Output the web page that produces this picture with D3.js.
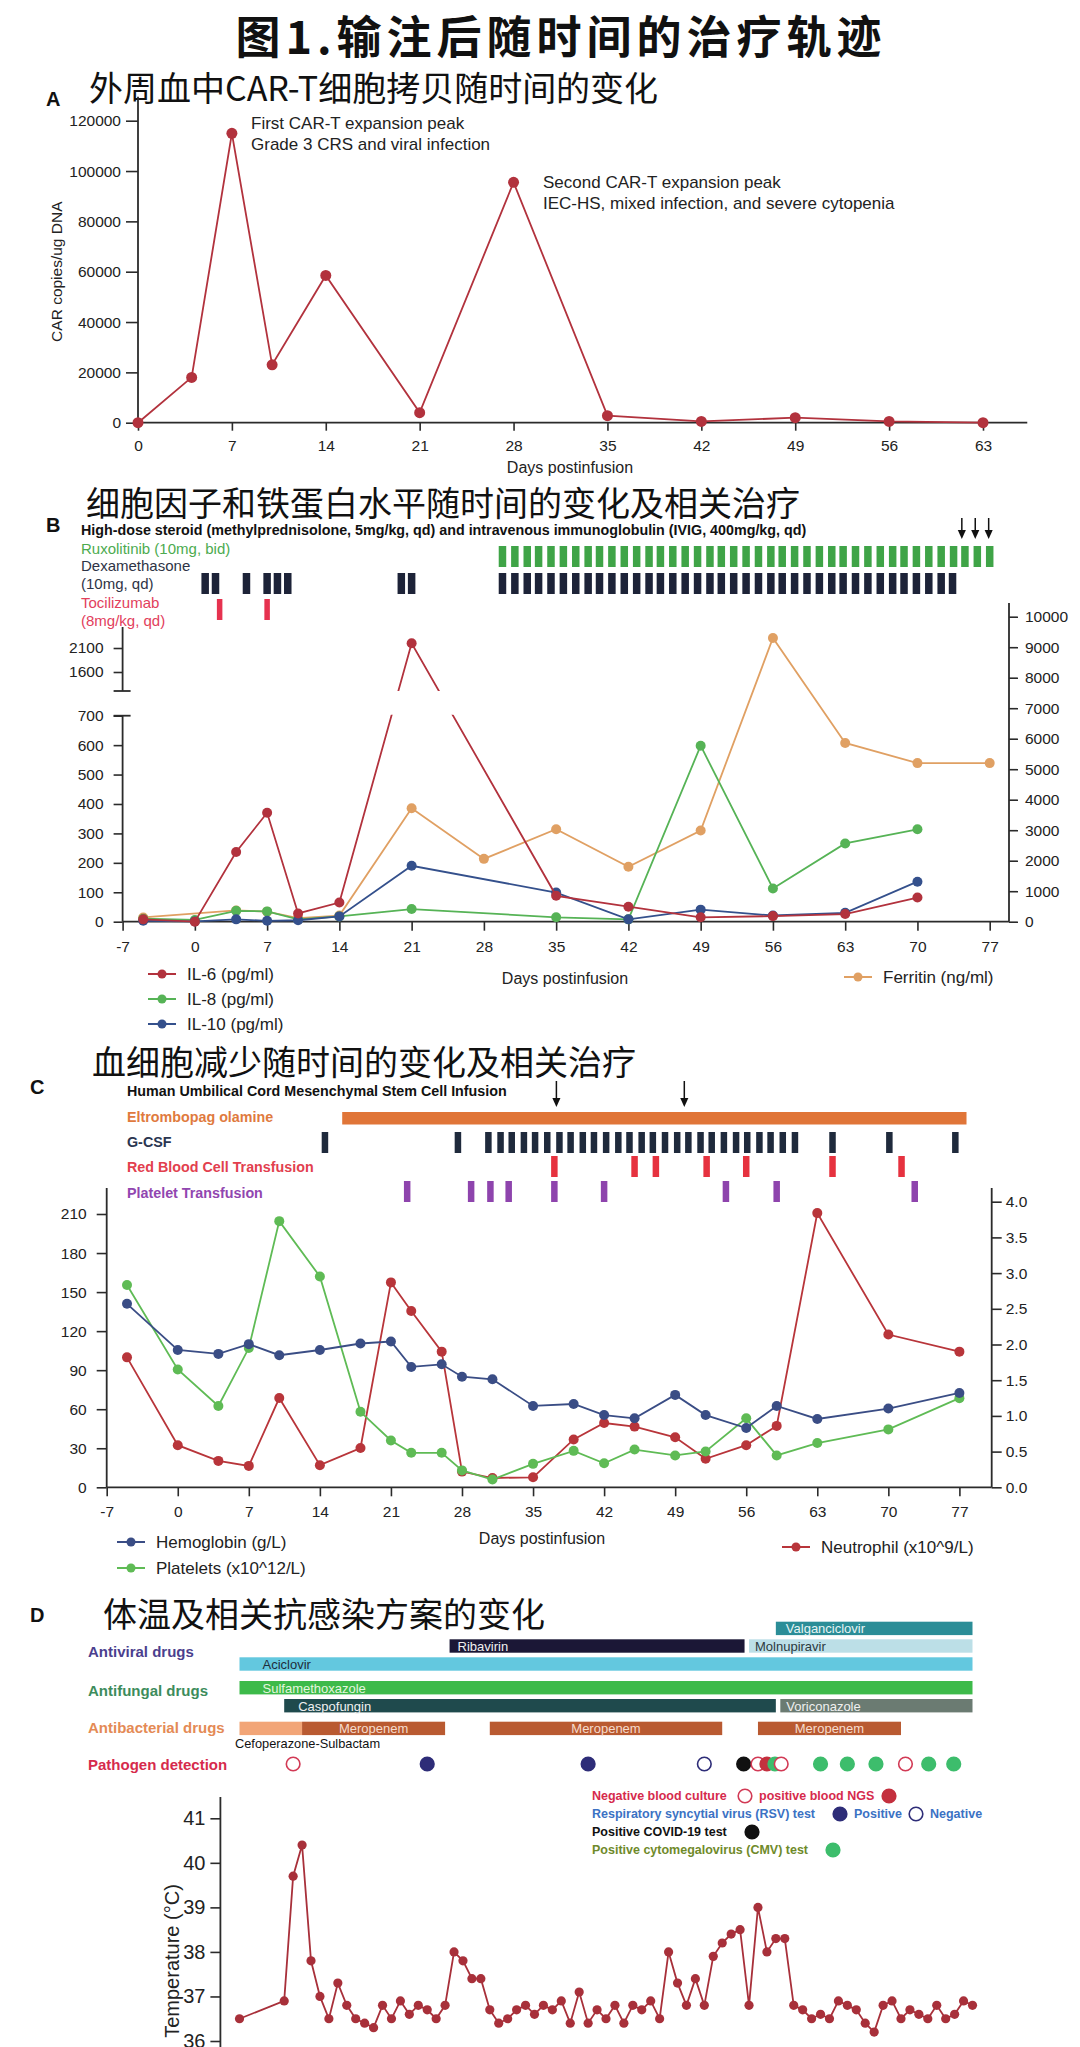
<!DOCTYPE html>
<html>
<head>
<meta charset="utf-8">
<script src="https://cdn.jsdelivr.net/npm/d3@7"></script>
<style>
  body { margin: 0; background: #fff; }
  svg { display: block; }
</style>
</head>
<body>
<svg id="chart" width="1080" height="2047"></svg>
<script>
// ---------- titles ----------
const mainTitle = '图1.输注后随时间的治疗轨迹';
const panelTitles = ['外周血中CAR-T细胞拷贝随时间的变化', '细胞因子和铁蛋白水平随时间的变化及相关治疗', '血细胞减少随时间的变化及相关治疗', '体温及相关抗感染方案的变化'];
const panelLetters = ['A', 'B', 'C', 'D'];

// ---------- A: CAR-T copies ----------
const carDays = [0, 4, 7, 10, 14, 21, 28, 35, 42, 49, 56, 63];
const carCopies = [0, 18000, 115000, 23000, 58500, 4000, 95500, 2800, 500, 2000, 500, 0];
const carXTicks = [0, 7, 14, 21, 28, 35, 42, 49, 56, 63];
const carYTicks = [0, 20000, 40000, 60000, 80000, 100000, 120000];
const carNotes = ['First CAR-T expansion peak', 'Grade 3 CRS and viral infection', 'Second CAR-T expansion peak', 'IEC-HS, mixed infection, and severe cytopenia'];

// ---------- B: cytokines / ferritin ----------
const cytoDays = [-5, 0, 4, 7, 10, 14, 21, 35, 42, 49, 56, 63, 70];
const il6 = [8, 0, 237, 370, 28, 65, 2200, 88, 51, 15, 19, 26, 82];
const il8 = [10, 6, 37, 35, 8, 18, 43, 15, 8, 598, 113, 266, 314];
const il10 = [3, 1, 8, 3, 5, 18, 190, 99, 8, 41, 21, 30, 136];
const ferritinDays = [-5, 4, 7, 10, 14, 21, 28, 35, 42, 49, 56, 63, 70, 77];
const ferritin = [140, 370, 330, 120, 200, 3720, 2060, 3030, 1800, 2990, 9300, 5860, 5200, 5200];
const dayTicks = [-7, 0, 7, 14, 21, 28, 35, 42, 49, 56, 63, 70, 77];
const cytoLowTicks = [0, 100, 200, 300, 400, 500, 600, 700];
const cytoHighTicks = [1600, 2100];
const ferritinTicks = [0, 1000, 2000, 3000, 4000, 5000, 6000, 7000, 8000, 9000, 10000];
const steroidHeader = 'High-dose steroid (methylprednisolone, 5mg/kg, qd) and intravenous immunoglobulin (IVIG, 400mg/kg, qd)';
const ruxDays = [29.8, 31.0, 32.2, 33.3, 34.5, 35.7, 36.9, 38.1, 39.2, 40.4, 41.6, 42.8, 44.0, 45.1, 46.3, 47.5, 48.7, 49.9, 51.0, 52.2, 53.4, 54.6, 55.8, 56.9, 58.1, 59.3, 60.5, 61.7, 62.8, 64.0, 65.2, 66.4, 67.6, 68.7, 69.9, 71.1, 72.3, 73.5, 74.6, 75.8, 77.0];
const dexDays = [1, 2, 5, 7, 8, 9, 20, 21, 29.8, 31.0, 32.2, 33.3, 34.5, 35.7, 36.9, 38.1, 39.2, 40.4, 41.6, 42.8, 44.0, 45.1, 46.3, 47.5, 48.7, 49.9, 51.0, 52.2, 53.4, 54.6, 55.8, 56.9, 58.1, 59.3, 60.5, 61.7, 62.8, 64.0, 65.2, 66.4, 67.6, 68.7, 69.9, 71.1, 72.3, 73.4];
const tociDays = [2.4, 7];
const ivigDays = [74.3, 75.6, 76.9];

// ---------- C: blood counts ----------
const cbcDays = [-5, 0, 4, 7, 10, 14, 18, 21, 23, 26, 28, 31, 35, 39, 42, 45, 49, 52, 56, 59, 63, 70, 77];
const hemoglobin = [141, 105.5, 102.5, 110, 101.5, 105.5, 110.5, 112, 92.5, 94.5, 85, 83, 62.5, 64, 55.5, 53, 71, 55.5, 45.5, 62.5, 52.5, 60.5, 72.5];
const platelets = [155.5, 90.5, 62.5, 107, 204.5, 162, 58, 36, 26.5, 26.5, 13, 6, 18, 28, 18.5, 29, 24.5, 27.5, 53, 24.5, 34, 44.5, 68.5];
const neutrophil = [1.82, 0.59, 0.37, 0.30, 1.25, 0.31, 0.55, 2.87, 2.47, 1.90, 0.22, 0.13, 0.14, 0.67, 0.90, 0.85, 0.70, 0.40, 0.59, 0.86, 3.84, 2.14, 1.90];
const cbcLeftTicks = [0, 30, 60, 90, 120, 150, 180, 210];
const cbcRightTicks = [0, 0.5, 1, 1.5, 2, 2.5, 3, 3.5, 4];
const eltrombopagSpan = [16.2, 77.7];
const gcsfDays = [14.5, 27.6, 30.6, 31.8, 32.9, 34.1, 35.2, 36.4, 37.6, 38.7, 39.9, 41.0, 42.2, 43.4, 44.5, 45.7, 46.8, 48.0, 49.2, 50.3, 51.5, 52.6, 53.8, 55.0, 56.1, 57.3, 58.4, 59.6, 60.8, 64.5, 70.1, 76.6];
const rbcDays = [37.1, 45.0, 47.1, 52.1, 56.0, 64.5, 71.3];
const pltDays = [22.6, 28.9, 30.8, 32.6, 37.1, 42.0, 54.0, 59.0, 72.6];
const mscDays = [37.3, 49.9];

// ---------- D: temperature / anti-infection ----------
const tempDays = [-5].concat(d3.range(0, 78));
const temperature = [36.5, 36.9, 39.7, 40.4, 37.8, 37.0, 36.5, 37.3, 36.8, 36.5, 36.4, 36.3, 36.8, 36.5, 36.9, 36.6, 36.8, 36.7, 36.5, 36.8,
  38.0, 37.8, 37.4, 37.4, 36.7, 36.4, 36.5, 36.7, 36.8, 36.6, 36.8, 36.7, 36.9, 36.4, 37.1, 36.4, 36.7, 36.5, 36.8, 36.4,
  36.8, 36.7, 36.9, 36.5, 38.0, 37.3, 36.8, 37.4, 36.8, 37.9, 38.2, 38.4, 38.5, 36.8, 39.0, 38.0, 38.3, 38.3, 36.8, 36.7,
  36.5, 36.6, 36.5, 36.9, 36.8, 36.7, 36.4, 36.2, 36.8, 36.9, 36.5, 36.7, 36.6, 36.5, 36.8, 36.5, 36.6, 36.9, 36.8];
const tempTicks = [36, 37, 38, 39, 40, 41];
const drugNames = ['Valganciclovir', 'Ribavirin', 'Molnupiravir', 'Aciclovir', 'Sulfamethoxazole', 'Caspofungin', 'Voriconazole', 'Cefoperazone-Sulbactam', 'Meropenem', 'Meropenem', 'Meropenem'];
const drugStart = [55, 18.5, 52, -5, -5, 0, 55.5, -5, 2, 23, 53];
const drugEnd = [77, 51.5, 77, 77, 77, 55, 77, 2, 18, 49, 69];
const drugRow = [0, 1, 1, 2, 3, 4, 4, 5, 5, 5, 5];
const drugGroups = ['Antiviral drugs', 'Antifungal drugs', 'Antibacterial drugs', 'Pathogen detection'];
const pathDays = [1, 16, 34, 47, 51.4, 53, 54, 54.9, 55.6, 60, 63, 66.2, 69.5, 72.1, 74.9];
const pathType = ['bcNeg', 'rsvPos', 'rsvPos', 'rsvNeg', 'covid', 'bcNeg', 'ngsPos', 'cmv', 'bcNeg', 'cmv', 'cmv', 'cmv', 'bcNeg', 'cmv', 'cmv'];

const SANS = "'Liberation Sans', Arial, sans-serif";
const CJK = "'Noto Sans CJK SC', sans-serif";
const AXIS = '#2b2b2b';
const plain = d => String(d);

const svg = d3.select('#chart');

/* common helpers */
function styleAxis(g, size) {
    g.selectAll('path.domain').remove();
    g.selectAll('line').attr('stroke', AXIS).attr('stroke-width', 1.6);
    g.selectAll('text').attr('fill', '#222').style('font-family', SANS).style('font-size', size + 'px');
}

function txt(x, y, s, size, opts = {}) {
    return svg.append('text')
        .attr('x', x).attr('y', y)
        .attr('dominant-baseline', 'central')
        .attr('text-anchor', opts.anchor || 'start')
        .attr('fill', opts.fill || '#222')
        .style('font-family', opts.font || SANS)
        .style('font-size', size + 'px')
        .style('font-weight', opts.weight || 400)
        .style('letter-spacing', opts.spacing || null)
        .text(s);
}

function vline(x, y1, y2) {
    svg.append('line').attr('x1', x).attr('x2', x).attr('y1', y1).attr('y2', y2)
        .attr('stroke', AXIS).attr('stroke-width', 1.8);
}

function hline(x1, x2, y) {
    svg.append('line').attr('x1', x1).attr('x2', x2).attr('y1', y).attr('y2', y)
        .attr('stroke', AXIS).attr('stroke-width', 1.8);
}

function series(xs, ys, x, y, color, r, clip) {
    const pts = xs.map((d, i) => [d, ys[i]]);
    const g = svg.append('g');
    g.append('path')
        .datum(pts)
        .attr('fill', 'none')
        .attr('stroke', color)
        .attr('stroke-width', 1.8)
        .attr('clip-path', clip || null)
        .attr('d', d3.line().x(d => x(d[0])).y(d => y(d[1])));
    g.selectAll('circle').data(pts).enter().append('circle')
        .attr('cx', d => x(d[0])).attr('cy', d => y(d[1])).attr('r', r)
        .attr('fill', color);
}

function legendItem(x, y, label, color) {
    svg.append('line').attr('x1', x).attr('x2', x + 28).attr('y1', y).attr('y2', y)
        .attr('stroke', color).attr('stroke-width', 2);
    svg.append('circle').attr('cx', x + 14).attr('cy', y).attr('r', 4.5).attr('fill', color);
    txt(x + 39, y, label, 17);
}

function ticksBars(days, x, y0, h, w, color) {
    svg.append('g').selectAll('rect').data(days).enter().append('rect')
        .attr('x', d => x(d) - w / 2).attr('y', y0)
        .attr('width', w).attr('height', h)
        .attr('fill', color);
}

function arrow(x, y1, y2, head) {
    svg.append('line').attr('x1', x).attr('x2', x).attr('y1', y1).attr('y2', y2 - head + 1)
        .attr('stroke', '#111').attr('stroke-width', 1.5);
    svg.append('path')
        .attr('d', `M${x - head * 0.45},${y2 - head} L${x + head * 0.45},${y2 - head} L${x},${y2} Z`)
        .attr('fill', '#111');
}

/* ---------- titles ---------- */
txt(561, 34, mainTitle, 45, { anchor: 'middle', font: CJK, weight: 700, fill: '#111', spacing: '5px' });
const subPos = [[89, 86], [86, 501], [92, 1060], [103, 1612]];
panelTitles.forEach((t, i) => txt(subPos[i][0], subPos[i][1], t, 34, { font: CJK, fill: '#111' }));
const letterPos = [[46, 99], [46, 525], [30, 1087], [30, 1615]];
panelLetters.forEach((t, i) => txt(letterPos[i][0], letterPos[i][1], t, 20, { weight: 700, fill: '#111' }));

/* ---------- Panel A ---------- */
const xA = d3.scaleLinear().domain([0, 63]).range([138, 983]);
const yA = d3.scaleLinear().domain([0, 120000]).range([422.7, 120.7]);

svg.append('g').attr('transform', `translate(${xA(0)},0)`)
    .call(d3.axisLeft(yA).tickValues(carYTicks).tickSize(12).tickPadding(5).tickFormat(plain))
    .call(styleAxis, 15.5);
vline(xA(0), yA(0), yA(129500));
svg.append('g').attr('transform', `translate(0,${yA(0)})`)
    .call(d3.axisBottom(xA).tickValues(carXTicks).tickSize(8).tickPadding(9).tickFormat(plain))
    .call(styleAxis, 15.5);
hline(xA(0), xA(66.3), yA(0));
txt(570, 467, 'Days postinfusion', 16, { anchor: 'middle' });
svg.append('text')
    .attr('transform', `translate(56,${yA(60000)}) rotate(-90)`)
    .attr('text-anchor', 'middle').attr('dominant-baseline', 'central')
    .attr('fill', '#222').style('font-family', SANS).style('font-size', '15.5px')
    .text('CAR copies/ug DNA');
series(carDays, carCopies, xA, yA, '#b2323d', 5.5);
txt(251, 123, carNotes[0], 17);
txt(251, 144, carNotes[1], 17);
txt(543, 182, carNotes[2], 17);
txt(543, 203, carNotes[3], 17);

/* ---------- Panel B ---------- */
const xB = d3.scaleLinear().domain([-7, 77]).range([122.6, 989.7]);
// broken left axis: 0-700 below, ~1200-2540 above
const yB = d3.scaleLinear().domain([0, 700, 1204, 2538]).range([921.7, 715.7, 691, 627]);
const yF = d3.scaleLinear().domain([0, 10000]).range([921.7, 616.7]);
const bRight = 1009;

txt(81, 530, steroidHeader, 14.3, { weight: 700, fill: '#111' });
ivigDays.forEach(d => arrow(xB(d), 518, 539, 9));
txt(81, 548, 'Ruxolitinib (10mg, bid)', 15, { fill: '#4cab4f' });
txt(81, 565, 'Dexamethasone', 15, { fill: '#2e3446' });
txt(81, 583, '(10mg, qd)', 15, { fill: '#2e3446' });
txt(81, 602, 'Tocilizumab', 15, { fill: '#e2405c' });
txt(81, 620, '(8mg/kg, qd)', 15, { fill: '#e2405c' });
ticksBars(ruxDays, xB, 546, 21, 7.5, '#3fa447');
ticksBars(dexDays, xB, 573, 21, 7.5, '#1d2338');
ticksBars(tociDays, xB, 599, 21, 5.5, '#e6324f');

svg.append('g').attr('transform', `translate(${xB(-7)},0)`)
    .call(d3.axisLeft(yB).tickValues(cytoLowTicks.concat(cytoHighTicks)).tickSize(9).tickPadding(10).tickFormat(plain))
    .call(styleAxis, 15.5);
vline(xB(-7), yB(0), yB(700));
vline(xB(-7), yB(2538), yB(1204));
hline(xB(-7) - 9, xB(-7) + 8, yB(1204));
hline(xB(-7) - 9, xB(-7) + 8, yB(700));
svg.append('g').attr('transform', `translate(${bRight},0)`)
    .call(d3.axisRight(yF).tickValues(ferritinTicks).tickSize(9).tickPadding(7).tickFormat(plain))
    .call(styleAxis, 15.5);
vline(bRight, yF(0), 603);
svg.append('g').attr('transform', `translate(0,${yF(0)})`)
    .call(d3.axisBottom(xB).tickValues(dayTicks).tickSize(9).tickPadding(10).tickFormat(plain))
    .call(styleAxis, 15.5);
hline(xB(-7), bRight, yF(0));

// IL-6 line is hidden across the axis break
const clip = svg.append('defs').append('clipPath').attr('id', 'breakClip');
clip.append('rect').attr('x', 0).attr('y', 560).attr('width', 1080).attr('height', yB(1204) - 560);
clip.append('rect').attr('x', 0).attr('y', yB(700) - 1).attr('width', 1080).attr('height', 300);

series(ferritinDays, ferritin, xB, yF, '#e0a063', 5);
series(cytoDays, il8, xB, yB, '#56b356', 5);
series(cytoDays, il10, xB, yB, '#34508c', 5);
series(cytoDays, il6, xB, yB, '#b2323d', 5, 'url(#breakClip)');

legendItem(148, 974, 'IL-6 (pg/ml)', '#b2323d');
legendItem(148, 999, 'IL-8 (pg/ml)', '#56b356');
legendItem(148, 1024, 'IL-10 (pg/ml)', '#34508c');
legendItem(844, 977, 'Ferritin (ng/ml)', '#e0a063');
txt(565, 978, 'Days postinfusion', 16, { anchor: 'middle' });

/* ---------- Panel C ---------- */
const xC = d3.scaleLinear().domain([-7, 77]).range([106.7, 959.4]);
const yC = d3.scaleLinear().domain([0, 210]).range([1487.3, 1214]);
const yN = d3.scaleLinear().domain([0, 4]).range([1487.3, 1201.7]);
const cRight = 991.7;

txt(127, 1091, 'Human Umbilical Cord Mesenchymal Stem Cell Infusion', 14.3, { weight: 700, fill: '#111' });
mscDays.forEach(d => arrow(xC(d), 1081, 1107, 9));
txt(127, 1117, 'Eltrombopag olamine', 14.3, { weight: 700, fill: '#e07a3e' });
svg.append('rect')
    .attr('x', xC(eltrombopagSpan[0])).attr('y', 1112)
    .attr('width', xC(eltrombopagSpan[1]) - xC(eltrombopagSpan[0])).attr('height', 12.5)
    .attr('fill', '#e07538');
txt(127, 1142, 'G-CSF', 14.3, { weight: 700, fill: '#2a3550' });
ticksBars(gcsfDays, xC, 1132, 21, 6.5, '#1f2a3c');
txt(127, 1167, 'Red Blood Cell Transfusion', 14.3, { weight: 700, fill: '#e2404e' });
ticksBars(rbcDays, xC, 1156, 21, 6.5, '#e6323f');
txt(127, 1193, 'Platelet Transfusion', 14.3, { weight: 700, fill: '#9146b0' });
ticksBars(pltDays, xC, 1181, 21, 6.5, '#8e44ad');

svg.append('g').attr('transform', `translate(${xC(-7)},0)`)
    .call(d3.axisLeft(yC).tickValues(cbcLeftTicks).tickSize(10).tickPadding(10).tickFormat(plain))
    .call(styleAxis, 15.5);
vline(xC(-7), yC(0), 1188);
svg.append('g').attr('transform', `translate(${cRight},0)`)
    .call(d3.axisRight(yN).tickValues(cbcRightTicks).tickSize(10).tickPadding(4).tickFormat(d3.format('.1f')))
    .call(styleAxis, 15.5);
vline(cRight, yN(0), 1188);
svg.append('g').attr('transform', `translate(0,${yC(0)})`)
    .call(d3.axisBottom(xC).tickValues(dayTicks).tickSize(9).tickPadding(10).tickFormat(plain))
    .call(styleAxis, 15.5);
hline(xC(-7), cRight, yC(0));

series(cbcDays, neutrophil, xC, yN, '#b8353a', 5);
series(cbcDays, platelets, xC, yC, '#5fbb55', 5);
series(cbcDays, hemoglobin, xC, yC, '#3a4d85', 5);

legendItem(117, 1542, 'Hemoglobin (g/L)', '#3a4d85');
legendItem(117, 1568, 'Platelets (x10^12/L)', '#5fbb55');
legendItem(782, 1547, 'Neutrophil (x10^9/L)', '#b8353a');
txt(542, 1538, 'Days postinfusion', 16, { anchor: 'middle' });

/* ---------- Panel D ---------- */
const xD = d3.scaleLinear().domain([-5, 77]).range([239.5, 972.5]);
const yD = d3.scaleLinear().domain([36, 41]).range([2041, 1818.3]);

const groupY = [1651, 1690, 1727, 1764];
const groupColor = ['#4b3f8e', '#3d8c5c', '#e48a55', '#d62a4c'];
drugGroups.forEach((t, i) => txt(88, groupY[i], t, 15, { weight: 700, fill: groupColor[i] }));

const rowTop = [1621.7, 1639.3, 1657.3, 1681, 1699, 1721.7];
const barFill = {
    'Valganciclovir': '#2b8d97', 'Ribavirin': '#1b1736', 'Molnupiravir': '#bcdfe7', 'Aciclovir': '#63c8df',
    'Sulfamethoxazole': '#3dba4a', 'Caspofungin': '#1f4a4d', 'Voriconazole': '#6b7b72',
    'Cefoperazone-Sulbactam': '#f2a577', 'Meropenem': '#b95a31'
};
const barText = {
    'Valganciclovir': '#e6f4f4', 'Ribavirin': '#f0f0f0', 'Molnupiravir': '#2c3a40', 'Aciclovir': '#1f2d3a',
    'Sulfamethoxazole': '#e4f6df', 'Caspofungin': '#f0f0f0', 'Voriconazole': '#f0f0f0', 'Meropenem': '#f6dccd'
};
const labelOffset = { 'Valganciclovir': 10, 'Ribavirin': 8, 'Molnupiravir': 6, 'Aciclovir': 23, 'Sulfamethoxazole': 23, 'Caspofungin': 14, 'Voriconazole': 6 };

drugNames.forEach((name, i) => {
    const x0 = xD(drugStart[i]);
    const x1 = xD(drugEnd[i]);
    const y0 = rowTop[drugRow[i]];
    svg.append('rect').attr('x', x0).attr('y', y0).attr('width', x1 - x0).attr('height', 13.4)
        .attr('fill', barFill[name]);
    if (name === 'Cefoperazone-Sulbactam') {
        txt(235, 1743, name, 12.8, { fill: '#111' });
    } else if (name === 'Meropenem') {
        txt((x0 + x1) / 2, y0 + 7, name, 13, { anchor: 'middle', fill: barText[name] });
    } else {
        txt(x0 + labelOffset[name], y0 + 7, name, 13, { fill: barText[name] });
    }
});

// pathogen detection markers
const markerStyle = {
    bcNeg: { fill: '#fff', stroke: '#d23a55' },
    ngsPos: { fill: '#c4303e', stroke: '#c4303e' },
    rsvPos: { fill: '#2e2d78', stroke: '#2e2d78' },
    rsvNeg: { fill: '#fff', stroke: '#2e2d78' },
    covid: { fill: '#111', stroke: '#111' },
    cmv: { fill: '#3dbd6c', stroke: '#3dbd6c' }
};
svg.append('g').selectAll('circle').data(pathDays).enter().append('circle')
    .attr('cx', d => xD(d)).attr('cy', 1764).attr('r', 6.8)
    .attr('fill', (d, i) => markerStyle[pathType[i]].fill)
    .attr('stroke', (d, i) => markerStyle[pathType[i]].stroke)
    .attr('stroke-width', 1.6);

function legendDot(x, y, type) {
    svg.append('circle').attr('cx', x).attr('cy', y).attr('r', 6.8)
        .attr('fill', markerStyle[type].fill).attr('stroke', markerStyle[type].stroke).attr('stroke-width', 1.6);
}
txt(592, 1796, 'Negative blood culture', 12.5, { weight: 700, fill: '#d62a4c' });
legendDot(745, 1796, 'bcNeg');
txt(759, 1796, 'positive blood NGS', 12.5, { weight: 700, fill: '#d62a4c' });
legendDot(889, 1796, 'ngsPos');
txt(592, 1814, 'Respiratory syncytial virus (RSV) test', 12.5, { weight: 700, fill: '#3b72c4' });
legendDot(840, 1814, 'rsvPos');
txt(854, 1814, 'Positive', 12.5, { weight: 700, fill: '#3b72c4' });
legendDot(916, 1814, 'rsvNeg');
txt(930, 1814, 'Negative', 12.5, { weight: 700, fill: '#3b72c4' });
txt(592, 1832, 'Positive COVID-19 test', 12.5, { weight: 700, fill: '#111' });
legendDot(752, 1832, 'covid');
txt(592, 1850, 'Positive cytomegalovirus (CMV) test', 12.5, { weight: 700, fill: '#6f8a2a' });
legendDot(833, 1850, 'cmv');

// temperature curve
svg.append('g').attr('transform', 'translate(220.4,0)')
    .call(d3.axisLeft(yD).tickValues(tempTicks).tickSize(10).tickPadding(5).tickFormat(plain))
    .call(styleAxis, 20);
vline(220.4, 1797, 2047);
svg.append('text')
    .attr('transform', 'translate(172,1961) rotate(-90)')
    .attr('text-anchor', 'middle').attr('dominant-baseline', 'central')
    .attr('fill', '#222').style('font-family', SANS).style('font-size', '20px')
    .text('Temperature (°C)');
series(tempDays, temperature, xD, yD, '#a8303a', 4.6);
</script>
</body>
</html>
